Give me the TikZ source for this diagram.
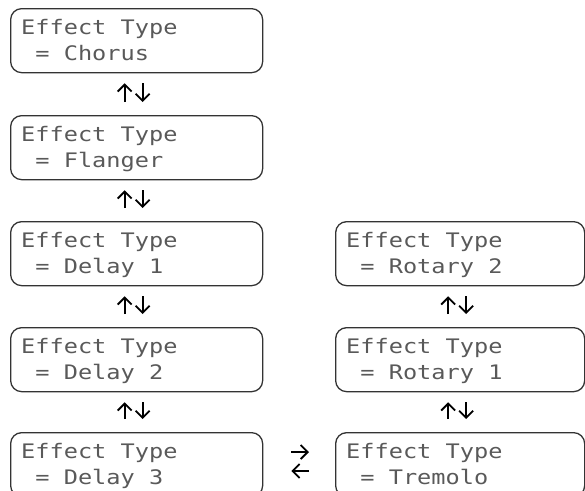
\documentclass[tikz,border=0pt]{standalone}
\usepackage{fontspec}
\usetikzlibrary{arrows.meta}
\newfontfamily\lcdfont[FakeStretch=1.18]{DejaVu Sans Mono}
\tikzset{
  lcdbox/.style={draw=black!80, line width=1.3pt, rounded corners=11pt,
    minimum height=64pt, inner sep=0pt, anchor=north west},
  lcdtext/.style={anchor=base west, inner sep=0pt, text=black!65,
    font=\lcdfont\fontsize{20}{28}\selectfont},
  arr/.style={line width=1.8pt, -{Straight Barb[length=7pt,width=14pt]}}
}
\newcommand\mklcd[5]{% name, left, top, width, value
  \node[lcdbox, minimum width=#4pt] (#1) at (#2,#3) {};
  \node[lcdtext] (#1a) at ([shift={(11pt,-26pt)}]#1.north west) {Effect Type};
  \node[lcdtext] (#1b) at ([shift={(11pt,-52pt)}]#1.north west) {\ = #5};
}
\begin{document}
\begin{tikzpicture}[x=1pt,y=-1pt]
\useasboundingbox (0,0) rectangle (585,490);
\clip (0,0) rectangle (585,490);
\mklcd{cho}{10}{8}{252}{Chorus}
\mklcd{fla}{10}{115}{252}{Flanger}
\mklcd{de1}{10}{221}{252}{Delay 1}
\mklcd{de2}{10}{327}{252}{Delay 2}
\mklcd{de3}{10}{432}{252}{Delay 3}
\mklcd{ro2}{335}{221}{249}{Rotary 2}
\mklcd{ro1}{335}{327}{249}{Rotary 1}
\mklcd{tre}{335}{432}{249}{Tremolo}
% vertical arrow pairs
\foreach \a/\b in {cho/fla, fla/de1, de1/de2, de2/de3, ro2/ro1, ro1/tre}{
  \draw[arr, shorten <=13pt, shorten >=10pt] ([xshift=-12pt]\b.north) -- ([xshift=-12pt]\a.south);
  \draw[arr, shorten <=10pt, shorten >=13pt] ([xshift=6pt]\a.south) -- ([xshift=6pt]\b.north);
}
% horizontal arrows
\draw[arr, shorten <=28pt, shorten >=26pt] ([yshift=-20pt]de3.north east) -- ([yshift=-20pt]tre.north west);
\draw[arr, shorten <=26pt, shorten >=28pt] ([yshift=-39pt]tre.north west) -- ([yshift=-39pt]de3.north east);
\end{tikzpicture}
\end{document}
